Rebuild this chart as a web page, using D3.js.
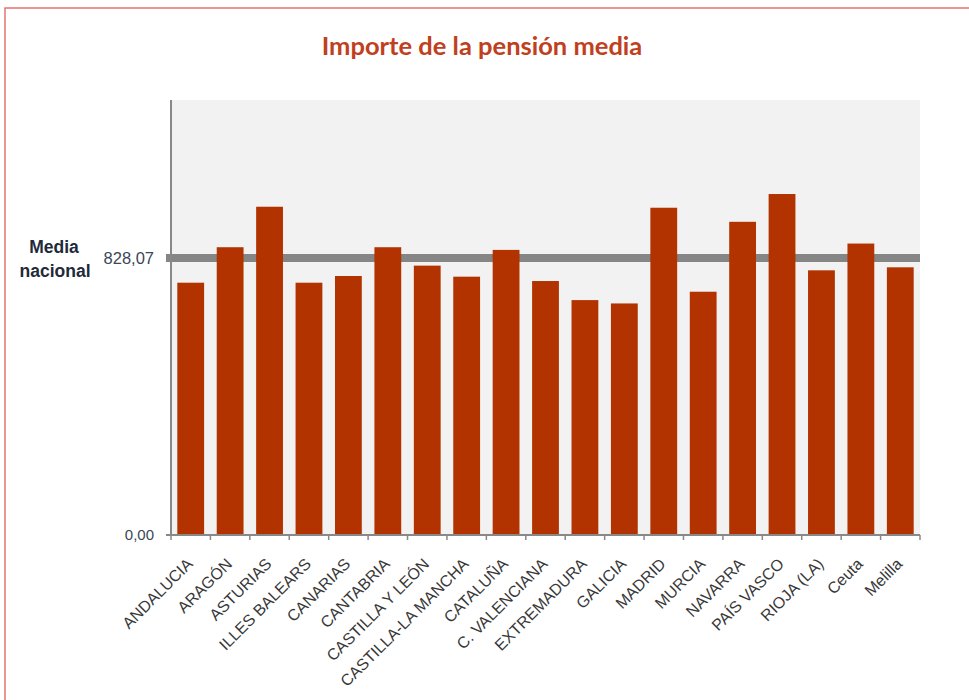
<!DOCTYPE html>
<html>
<head>
<meta charset="utf-8">
<script src="https://cdn.jsdelivr.net/npm/d3@7"></script>
<style>
  body { margin: 0; background: #fff; }
  svg { display: block; }
</style>
</head>
<body>
<div class="graph_wrapper"></div>
<script>
  var categories = ['ANDALUCIA', 'ARAGÓN', 'ASTURIAS', 'ILLES BALEARS', 'CANARIAS', 'CANTABRIA',
    'CASTILLA Y LEÓN', 'CASTILLA-LA MANCHA', 'CATALUÑA', 'C. VALENCIANA', 'EXTREMADURA',
    'GALICIA', 'MADRID', 'MURCIA', 'NAVARRA', 'PAÍS VASCO', 'RIOJA (LA)', 'Ceuta', 'Melilla'];
  var values = [754, 860, 981, 754, 774, 860, 805, 772, 852, 759, 702, 692, 978, 727, 936, 1019, 791, 871, 800];
  var mediaNacional = 828.07;
  var yTicks = [0, mediaNacional];
  var yTickLabels = ['0,00', '828,07'];

  (function () {
    var width = 969;
    var height = 700;
    var plotLeft = 171, plotRight = 920, plotTop = 100, plotBottom = 535;

    var svg = d3.select('.graph_wrapper').append('svg').attr('width', width).attr('height', height);

    // frame
    svg.append('rect').attr('x', 5).attr('y', 8).attr('width', 1000).attr('height', 1000)
      .attr('fill', 'none').attr('stroke', '#e57373').attr('stroke-width', 1.5);

    svg.append('text').attr('x', 482).attr('y', 55)
      .attr('text-anchor', 'middle')
      .style('font-family', 'Lato, sans-serif').style('font-weight', 'bold')
      .style('font-size', '25.5px').style('fill', '#c0401e')
      .text('Importe de la pensión media');

    var x = d3.scaleBand().domain(categories).range([plotLeft, plotRight]).paddingInner(0.32).paddingOuter(0.16);
    var y = d3.scaleLinear().domain([0, 1300]).range([plotBottom, plotTop]);

    // plot area
    svg.append('rect').attr('x', plotLeft).attr('y', plotTop)
      .attr('width', plotRight - plotLeft).attr('height', plotBottom - plotTop)
      .attr('fill', '#f2f2f2');

    // national average line
    svg.append('line').attr('x1', plotLeft - 5).attr('x2', plotRight)
      .attr('y1', y(mediaNacional)).attr('y2', y(mediaNacional))
      .attr('stroke', '#858585').attr('stroke-width', 8);

    svg.selectAll('.bar').data(values).enter().append('rect')
      .attr('class', 'bar')
      .attr('x', function (d, i) { return x(categories[i]); })
      .attr('y', function (d) { return y(d); })
      .attr('width', x.bandwidth())
      .attr('height', function (d) { return y(0) - y(d); })
      .attr('fill', '#b23200');

    // axes
    var xTick = d3.scaleLinear().domain([0, categories.length]).range([plotLeft, plotRight]);
    svg.selectAll('.xtick').data(d3.range(categories.length + 1)).enter().append('line')
      .attr('x1', function (d) { return xTick(d); }).attr('x2', function (d) { return xTick(d); })
      .attr('y1', plotBottom).attr('y2', plotBottom + 5)
      .attr('stroke', '#888').attr('stroke-width', 1.5);

    svg.append('line').attr('x1', plotLeft - 5).attr('x2', plotRight)
      .attr('y1', plotBottom).attr('y2', plotBottom)
      .attr('stroke', '#888').attr('stroke-width', 2);
    svg.append('line').attr('x1', plotLeft).attr('x2', plotLeft)
      .attr('y1', plotTop).attr('y2', plotBottom)
      .attr('stroke', '#888').attr('stroke-width', 2);

    svg.selectAll('.ylab').data(yTicks).enter().append('text')
      .attr('x', 154).attr('y', function (d) { return y(d); })
      .attr('dy', '0.35em').attr('text-anchor', 'end')
      .style('font-family', 'Liberation Sans, Arial, sans-serif')
      .style('font-size', function (d, i) { return i === 0 ? '15px' : '16.5px'; })
      .style('fill', '#3b4656')
      .text(function (d, i) { return yTickLabels[i]; });

    var media = svg.append('text').attr('text-anchor', 'middle')
      .style('font-family', 'Liberation Sans, Arial, sans-serif').style('font-weight', 'bold')
      .style('font-size', '17.5px').style('fill', '#1f2a3a');
    media.append('tspan').attr('x', 54).attr('y', 253).text('Media');
    media.append('tspan').attr('x', 55).attr('y', 277).text('nacional');

    svg.selectAll('.xlab').data(categories).enter().append('text')
      .attr('transform', function (d) {
        return 'translate(' + (x(d) + x.bandwidth() / 2 + 3) + ',565) rotate(-45)';
      })
      .attr('text-anchor', 'end')
      .style('font-family', 'Liberation Sans, Arial, sans-serif')
      .style('font-size', '16px').style('fill', '#383838')
      .text(function (d) { return d; });
  })();
</script>
</body>
</html>
